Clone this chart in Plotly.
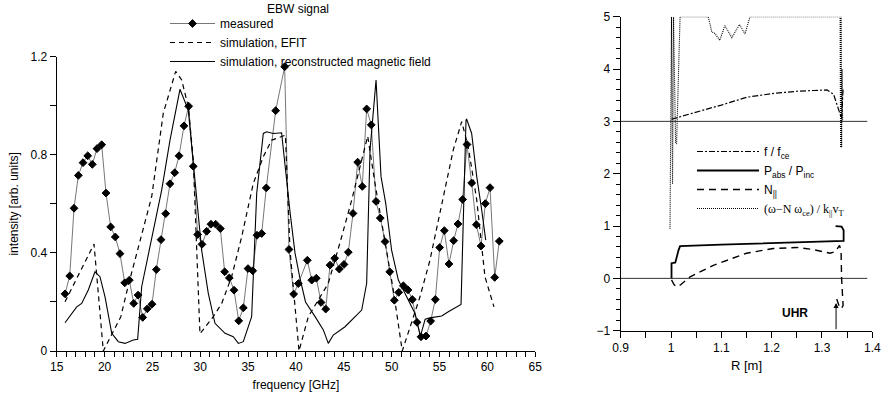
import plotly.graph_objects as go

# ---------------- left panel: EBW signal ----------------
freq_meas = [15.87,16.36,16.81,17.26,17.75,18.24,18.72,19.21,19.70,20.15,20.64,21.12,21.61,22.11,22.59,
             23.05,23.50,23.99,24.47,24.96,25.41,25.90,26.39,26.84,27.33,27.78,28.30,28.79,29.27,29.73,
             30.18,30.67,31.12,31.61,32.10,32.55,33.04,33.53,34.02,34.50,34.99,35.48,35.93,36.42,36.90,
             37.88,38.82,39.27,39.76,40.25,41.19,41.65,42.13,42.62,43.11,43.56,44.05,44.53,45.02,45.47,
             45.96,46.45,46.93,47.39,47.87,48.37,48.81,49.31,49.80,50.28,50.74,51.22,51.71,52.16,52.65,
             53.07,53.59,54.08,54.56,55.02,55.50,55.99,56.48,56.93,57.42,57.87,58.36,58.85,59.34,59.79,
             60.28,60.77,61.25]
int_meas = [0.233,0.306,0.582,0.716,0.768,0.796,0.761,0.825,0.841,0.644,0.506,0.465,0.397,0.278,0.289,
            0.194,0.228,0.137,0.172,0.191,0.332,0.454,0.560,0.682,0.727,0.796,0.918,0.998,0.753,0.475,
            0.435,0.488,0.517,0.517,0.499,0.323,0.298,0.248,0.123,0.176,0.336,0.327,0.472,0.479,0.665,
            0.980,1.159,0.414,0.232,0.275,0.370,0.289,0.297,0.198,0.171,0.350,0.378,0.334,0.353,0.403,
            0.561,0.770,0.671,0.987,0.922,0.610,0.542,0.446,0.323,0.207,0.239,0.266,0.249,0.210,0.117,
            0.058,0.061,0.122,0.210,0.422,0.491,0.355,0.450,0.518,0.618,0.842,0.685,0.515,0.428,0.601,
            0.666,0.300,0.448]

freq_efit = [15.87,18.9,19.87,20.8,21.7,22.5,23.6,24.93,26.14,27.02,27.43,28.06,28.75,29.27,29.63,29.97,
             31.36,32.24,33.28,34.33,35.54,36.59,37.47,38.2,38.9,39.38,40.32,41.29,42.34,43.38,44.78,
             45.83,46.69,47.5,48.26,49.31,50.17,51.11,51.92,52.96,54.0,55.23,56.44,57.32,58.0,58.89,
             59.75,60.69]
int_efit = [0.201,0.436,0.0,0.07,0.14,0.27,0.43,0.63,0.97,1.09,1.14,1.105,0.996,0.78,0.41,0.07,
            0.14,0.194,0.303,0.466,0.683,0.792,0.86,0.87,0.88,0.41,0.0,0.14,0.208,0.276,0.466,
            0.616,0.751,0.876,0.683,0.439,0.249,0.0,0.099,0.221,0.37,0.60,0.82,0.935,0.833,0.616,
            0.303,0.18]

freq_rec = [15.87,17.09,17.61,18.30,19.0,19.52,20.05,20.75,21.44,22.14,23.0,23.46,23.88,24.93,25.97,
            26.84,27.54,27.88,28.75,29.45,30.15,30.84,31.54,32.59,33.45,33.98,34.50,35.37,35.9,36.59,
            36.94,37.63,38.0,38.5,39.4,39.9,40.4,41.0,42.0,42.86,43.38,43.90,45.13,46.87,47.39,47.74,
            48.37,48.89,49.38,50.0,50.70,51.74,52.44,53.0,53.5,54.0,55.23,55.92,57.25,57.77,57.84,
            58.36,58.89,59.41,59.83]
int_rec = [0.115,0.18,0.194,0.249,0.323,0.303,0.221,0.072,0.038,0.031,0.045,0.048,0.262,0.466,0.656,
           0.86,1.01,1.067,0.982,0.683,0.41,0.235,0.113,0.072,0.058,0.031,0.038,0.14,0.643,0.887,
           0.894,0.887,0.887,0.89,0.56,0.40,0.30,0.20,0.14,0.086,0.031,0.065,0.099,0.167,0.276,0.819,
           1.105,0.711,0.602,0.41,0.289,0.208,0.153,0.06,0.13,0.135,0.143,0.16,0.19,0.942,0.945,
           0.887,0.711,0.575,0.452]

# ---------------- right panel: radial profiles ----------------
R_ratio = [1.001,1.018,1.04,1.084,1.1,1.15,1.2,1.217,1.25,1.283,1.31,1.323,1.329,1.336,1.339,1.342]
v_ratio = [3.04,3.09,3.15,3.27,3.31,3.46,3.53,3.55,3.575,3.59,3.6,3.52,3.33,3.11,3.05,3.62]

R_pabs = [1.001,1.001,1.008,1.009,1.015,1.018,1.1,1.2,1.3,1.343,1.343,1.339,1.327]
v_pabs = [0.0,0.29,0.30,0.32,0.54,0.615,0.645,0.67,0.695,0.715,0.92,0.99,1.0]

R_npar = [1.001,1.006,1.011,1.018,1.038,1.084,1.15,1.203,1.25,1.283,1.316,1.326,1.335,1.338,1.339,
          1.341,1.342,1.338,1.333,1.328]
v_npar = [-0.03,-0.12,-0.16,-0.13,0.03,0.25,0.48,0.57,0.59,0.55,0.48,0.51,0.63,0.5,0.0,
          -0.35,-0.52,-0.58,-0.5,-0.36]

R_res = [0.998,1.001,1.003,1.005,1.009,1.011,1.018,1.074,1.081,1.087,1.097,1.107,1.121,1.136,1.147,
         1.157,1.336,1.337,1.338,1.339,1.340,1.341]
v_res = [0.95,5.0,1.8,5.0,2.6,2.57,5.0,5.0,4.71,4.68,4.55,4.83,4.6,4.85,4.67,
         5.0,5.0,2.5,5.0,2.5,4.0,3.0]

ref_levels = [0, 3]
ref_R_span = [0.9, 1.39]
uhr_R = 1.328

FONT = "Liberation Sans, Arial, sans-serif"

fig = go.Figure()

fig.add_trace(go.Scatter(x=freq_meas, y=int_meas, mode="lines+markers", name="measured",
                         line=dict(color="#777777", width=1),
                         marker=dict(symbol="diamond", size=6, color="black",
                                     line=dict(color="black", width=1)),
                         xaxis="x", yaxis="y", legend="legend"))
fig.add_trace(go.Scatter(x=freq_efit, y=int_efit, mode="lines", name="simulation, EFIT",
                         line=dict(color="black", width=1.2, dash="5px,4px"),
                         xaxis="x", yaxis="y", legend="legend"))
fig.add_trace(go.Scatter(x=freq_rec, y=int_rec, mode="lines",
                         name="simulation, reconstructed magnetic field",
                         line=dict(color="black", width=1.1),
                         xaxis="x", yaxis="y", legend="legend"))

fig.add_trace(go.Scatter(x=R_ratio, y=v_ratio, mode="lines", name="f / f<sub>ce</sub>",
                         line=dict(color="black", width=1.2, dash="6px,2px,2px,2px"),
                         xaxis="x2", yaxis="y2", legend="legend2"))
fig.add_trace(go.Scatter(x=R_pabs, y=v_pabs, mode="lines", name="P<sub>abs</sub> / P<sub>inc</sub>",
                         line=dict(color="black", width=1.8),
                         xaxis="x2", yaxis="y2", legend="legend2"))
fig.add_trace(go.Scatter(x=R_npar, y=v_npar, mode="lines", name="N<sub>||</sub>",
                         line=dict(color="black", width=1.4, dash="7px,5px"),
                         xaxis="x2", yaxis="y2", legend="legend2"))
fig.add_trace(go.Scatter(x=R_res, y=v_res, mode="lines",
                         name='<span style="font-family:Liberation Serif">(ω−N ω<sub>ce</sub>) / k<sub>||</sub>v<sub>T</sub></span>',
                         line=dict(color="black", width=1.1, dash="1px,1px"),
                         xaxis="x2", yaxis="y2", legend="legend2"))

shapes = []
for lvl in ref_levels:
    shapes.append(dict(type="line", xref="x2", yref="y2", x0=ref_R_span[0], x1=ref_R_span[1],
                       y0=lvl, y1=lvl, line=dict(color="#333333", width=1), layer="below"))

# the page body margin is removed (see post_script), so the figure fills the window exactly
W, H = 885, 395
def px(x):
    return x / W
def py(y):
    return (H - y) / H
def dx(a, b):
    return [px(a), px(b)]
def dy(top, bottom):
    return [py(bottom), py(top)]

axis_common = dict(showgrid=False, zeroline=False, showline=True, linecolor="black", linewidth=1,
                   ticks="outside", tickcolor="black", tickwidth=1, automargin=False,
                   tickfont=dict(family=FONT, size=12, color="black"))

fig.update_layout(
    width=W, height=H,
    margin=dict(l=0, r=0, t=0, b=0, autoexpand=False),
    paper_bgcolor="white", plot_bgcolor="white",
    font=dict(family=FONT, size=12, color="black"),
    showlegend=True,
    xaxis=dict(domain=dx(56.7, 535.2), range=[15, 65], dtick=5, ticklen=5,
               minor=dict(dtick=1, ticklen=5, ticks="outside", tickcolor="black"),
               title=dict(text="frequency [GHz]", standoff=7, font=dict(size=12)),
               anchor="y", **axis_common),
    yaxis=dict(domain=dy(56.7, 351), range=[0, 1.2], dtick=0.4, ticklen=6,
               minor=dict(dtick=0.2, ticklen=6, ticks="outside", tickcolor="black"),
               title=dict(text="intensity [arb. units]", standoff=9, font=dict(size=12)),
               anchor="x", **axis_common),
    xaxis2=dict(domain=dx(620.7, 872.3), range=[0.9, 1.4], dtick=0.1, ticklen=6,
                minor=dict(dtick=0.05, ticklen=6, ticks="outside", tickcolor="black"),
                title=dict(text="R [m]", standoff=6, font=dict(size=13)),
                anchor="y2", **axis_common),
    yaxis2=dict(domain=dy(16.7, 330.7), range=[-1, 5], dtick=1, ticklen=7,
                minor=dict(dtick=0.2, ticklen=4, ticks="outside", tickcolor="black"),
                anchor="x2", **axis_common),
    legend=dict(x=px(165), y=py(9), xanchor="left", yanchor="top", bgcolor="rgba(0,0,0,0)",
                font=dict(family=FONT, size=12, color="black"), itemwidth=45,
                tracegroupgap=0),
    legend2=dict(x=px(692), y=py(137), xanchor="left", yanchor="top", itemwidth=62,
                 bgcolor="rgba(0,0,0,0)", font=dict(family=FONT, size=12, color="black")),
    shapes=shapes,
    annotations=[
        dict(x=px(298), y=py(9), xref="paper", yref="paper", text="EBW signal",
             xanchor="center", yanchor="middle",
             showarrow=False, font=dict(family=FONT, size=12, color="black")),
        dict(x=1.2465, y=-0.66, xref="x2", yref="y2", text="<b>UHR</b>", showarrow=False,
             font=dict(family=FONT, size=12, color="black")),
        dict(x=uhr_R, y=-0.47, xref="x2", yref="y2", ax=uhr_R, ay=-1.0, axref="x2", ayref="y2",
             text="", showarrow=True, arrowhead=2, arrowsize=1, arrowwidth=1, arrowcolor="black"),
    ],
)

fig.write_html("out.html", config={"displayModeBar": False},
               post_script="document.body.style.margin='0px';document.body.style.overflow='hidden';")
